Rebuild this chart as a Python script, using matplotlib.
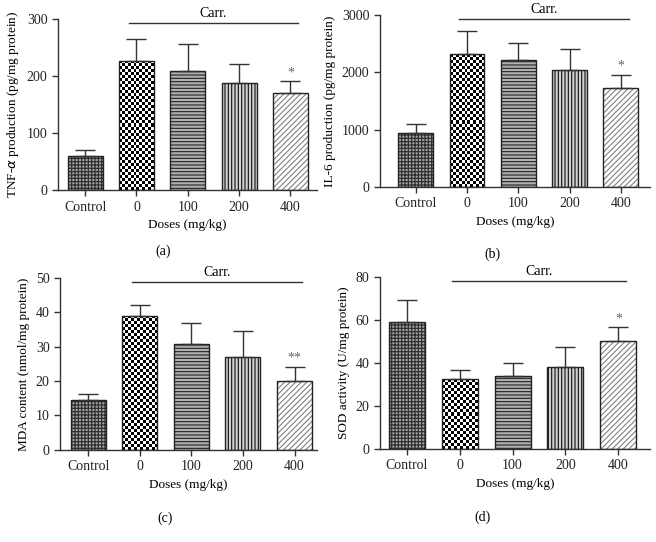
import matplotlib
matplotlib.use('Agg')
import matplotlib.pyplot as plt
import numpy as np
from matplotlib.transforms import blended_transform_factory

plt.rcParams['font.family'] = 'Liberation Serif'
plt.rcParams['font.size'] = 10
plt.rcParams['hatch.linewidth'] = 0.8

# data
doses = ['Control', '0', '100', '200', '400']

tnf = [60, 227, 209, 188, 171]
tnf_err = [11, 38, 47, 33, 20]

il6 = [935, 2315, 2210, 2045, 1720]
il6_err = [165, 405, 300, 360, 240]

mda = [14.5, 39.0, 30.7, 26.9, 19.9]
mda_err = [1.9, 3.2, 6.1, 7.8, 4.3]

sod = [58.8, 32.3, 33.7, 37.9, 50.3]
sod_err = [10.4, 4.2, 6.2, 9.6, 6.5]

stars = ['', '', '', '', '*']
stars_mda = ['', '', '', '', '**']

fig = plt.figure(figsize=(6.56, 5.42), dpi=100)


def checker(ax, patch, cell_px=3.0):
    # checkerboard fill for the Carr. 0 bar
    fig.canvas.draw()
    x0, y0 = patch.get_x(), patch.get_y()
    x1, y1 = x0 + patch.get_width(), y0 + patch.get_height()
    p0 = ax.transData.transform((x0, y0))
    p1 = ax.transData.transform((x1, y1))
    nx = max(1, int(round((p1[0] - p0[0]) / cell_px)))
    ny = max(1, int(round((p1[1] - p0[1]) / cell_px)))
    ii, jj = np.indices((ny, nx))
    img = ((ii + jj) % 2).astype(float)
    im = ax.imshow(img, extent=(x0, x1, y0, y1), cmap='gray', vmin=0, vmax=1,
                   interpolation='nearest', aspect='auto', zorder=2)
    im.set_clip_path(patch)


def panel(rect, vals, errs, ylim, yticks, ylabel, marks, xlim, letter, lpos):
    ax = fig.add_axes(rect)
    x = np.arange(len(doses))
    ax.set_xlim(*xlim)
    ax.set_ylim(*ylim)
    faces = ['#a0a0a0', 'white', '#b0b0b0', '#d0d0d0', 'white']
    hatches = ['+++++', None, '-----', '|||||', '//////']
    hcols = ['#2a2a2a', 'white', '#222222', '#111111', '#808080']
    bars = []
    for i in range(len(doses)):
        b = ax.bar(x[i], vals[i], width=0.68, color=faces[i], hatch=hatches[i],
                   edgecolor=hcols[i], linewidth=0, zorder=1)
        bars.append(b[0])
    ax.bar(x, vals, width=0.68, fill=False, edgecolor='#222222', linewidth=1.0, zorder=3)
    checker(ax, bars[1])
    ax.errorbar(x, vals, yerr=[np.zeros(len(vals)), errs], fmt='none',
                ecolor='#333333', elinewidth=1.0, capsize=7, capthick=1.0, zorder=4)
    for i, m in enumerate(marks):
        if m:
            ax.text(x[i], vals[i] + errs[i] + (ylim[1] - ylim[0]) * 0.01, m,
                    ha='center', va='bottom', color='#666666', fontsize=10)
    tr = blended_transform_factory(ax.transData, ax.transAxes)
    ax.plot([0.85, 4.15], [0.975, 0.975], color='#333333', lw=1.0, transform=tr, clip_on=False)
    ax.text(2.5, 0.995, 'Carr.', ha='center', va='bottom', transform=tr, fontsize=10)
    ax.set_xticks(x)
    ax.set_xticklabels(doses)
    ax.set_yticks(yticks)
    ax.set_ylabel(ylabel, labelpad=4, fontsize=9.5)
    ax.set_xlabel('Doses (mg/kg)', labelpad=4, fontsize=9.5)
    for s in ['top', 'right']:
        ax.spines[s].set_visible(False)
    for s in ['left', 'bottom']:
        ax.spines[s].set_color('#333333')
        ax.spines[s].set_linewidth(1.0)
    ax.tick_params(direction='out', length=4, width=1.0, color='#333333', labelcolor='#222222')
    fig.text(lpos[0], lpos[1], letter, ha='center', va='center', fontsize=10)
    return ax


panel([0.0884, 0.649, 0.395, 0.316], tnf, tnf_err, (0, 300), [0, 100, 200, 300],
      r'TNF-$\alpha$ production (pg/mg protein)', stars, (-0.53, 4.52), '(a)',
      (0.249, 0.537))
panel([0.579, 0.655, 0.412, 0.317], il6, il6_err, (0, 3000), [0, 1000, 2000, 3000],
      'IL-6 production (pg/mg protein)', stars, (-0.70, 4.57), '(b)',
      (0.750, 0.530))
panel([0.0915, 0.170, 0.392, 0.317], mda, mda_err, (0, 50), [0, 10, 20, 30, 40, 50],
      'MDA content (nmol/mg protein)', stars_mda, (-0.55, 4.44), '(c)',
      (0.252, 0.044))
panel([0.579, 0.172, 0.412, 0.317], sod, sod_err, (0, 80), [0, 20, 40, 60, 80],
      'SOD activity (U/mg protein)', stars, (-0.51, 4.6), '(d)',
      (0.735, 0.046))

plt.savefig('out.png', dpi=100)
